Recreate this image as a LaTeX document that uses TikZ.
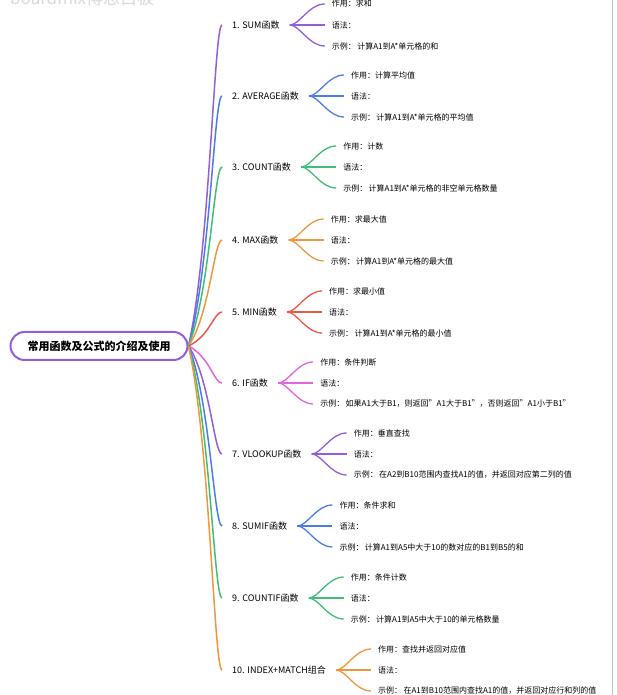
\documentclass[tikz,border=0pt]{standalone}
\usepackage{fontspec}
\setmainfont{Noto Sans CJK SC}
\usepackage{tikz}
\usetikzlibrary{calc,positioning}
\definecolor{mmpurple}{RGB}{146,94,220}
\definecolor{mmblue}{RGB}{76,125,230}
\definecolor{mmgreen}{RGB}{64,190,120}
\definecolor{mmorange}{RGB}{240,150,60}
\definecolor{mmred}{RGB}{235,90,70}
\definecolor{mmpink}{RGB}{230,100,220}
\tikzset{>=latex}
\tikzset{
  topic/.style={draw=mmpurple, line width=2pt, fill=white,
    rounded corners=14pt, minimum width=177pt, minimum height=28pt,
    font=\fontsize{11}{13}\selectfont\bfseries},
  func/.style={anchor=west, inner xsep=10pt, inner ysep=2pt,
    font=\fontsize{9}{11}\selectfont},
  leaf/.style={anchor=west, inner xsep=7pt, inner ysep=1pt,
    font=\fontsize{8}{10}\selectfont},
  branch/.style={line width=1.5pt},
  fork/.style={line width=1.3pt}
}

\begin{document}
\begin{tikzpicture}[x=1pt,y=1pt]
  \useasboundingbox (0,0) rectangle (617,695);
  % watermark, cut at the top
  \node[anchor=base west, text=black!15, inner sep=0pt,
    font=\fontsize{17}{19}\selectfont] (mark) at (10,690) {boardmix博思白板};
  \draw[black!25] (612,0) -- (612,695);
  \node[topic] (root) at (99,349) {常用函数及公式的介绍及使用};
  \foreach \i/\y/\col/\name/\use/\ex in {
      1/670/mmpurple/{1. SUM函数}/{求和}/{计算A1到A*单元格的和},
      2/599/mmblue/{2. AVERAGE函数}/{计算平均值}/{计算A1到A*单元格的平均值},
      3/528/mmgreen/{3. COUNT函数}/{计数}/{计算A1到A*单元格的非空单元格数量},
      4/455/mmorange/{4. MAX函数}/{求最大值}/{计算A1到A*单元格的最大值},
      5/383/mmred/{5. MIN函数}/{求最小值}/{计算A1到A*单元格的最小值},
      6/312/mmpink/{6. IF函数}/{条件判断}/{如果A1大于B1，则返回"A1大于B1"，否则返回"A1小于B1"},
      7/241/mmpurple/{7. VLOOKUP函数}/{垂直查找}/{在A2到B10范围内查找A1的值，并返回对应第二列的值},
      8/169/mmblue/{8. SUMIF函数}/{条件求和}/{计算A1到A5中大于10的数对应的B1到B5的和},
      9/97/mmgreen/{9. COUNTIF函数}/{条件计数}/{计算A1到A5中大于10的单元格数量},
      10/25/mmorange/{10. INDEX+MATCH组合}/{查找并返回对应值}/{在A1到B10范围内查找A1的值，并返回对应行和列的值}}{
    \node[func] (f\i) at (222,\y) {\name};
    \node[leaf] (u\i) at ([shift={(35,21)}]f\i.east) {作用：\use};
    \node[leaf] (g\i) at ([shift={(35,0)}]f\i.east) {语法：};
    \node[leaf] (e\i) at ([shift={(35,-21)}]f\i.east) {示例：\,\ex};
    \draw[branch, color=\col] (root.east) .. controls (210,{349+0.3*(\y-349)}) and (214,\y) .. (f\i.west);
    \draw[fork, color=\col] (f\i.east) .. controls +(10,0) and +(-16,0) .. (u\i.west);
    \draw[fork, color=\col] (f\i.east) -- (g\i.west);
    \draw[fork, color=\col] (f\i.east) .. controls +(10,0) and +(-16,0) .. (e\i.west);
  }
\end{tikzpicture}
\end{document}
